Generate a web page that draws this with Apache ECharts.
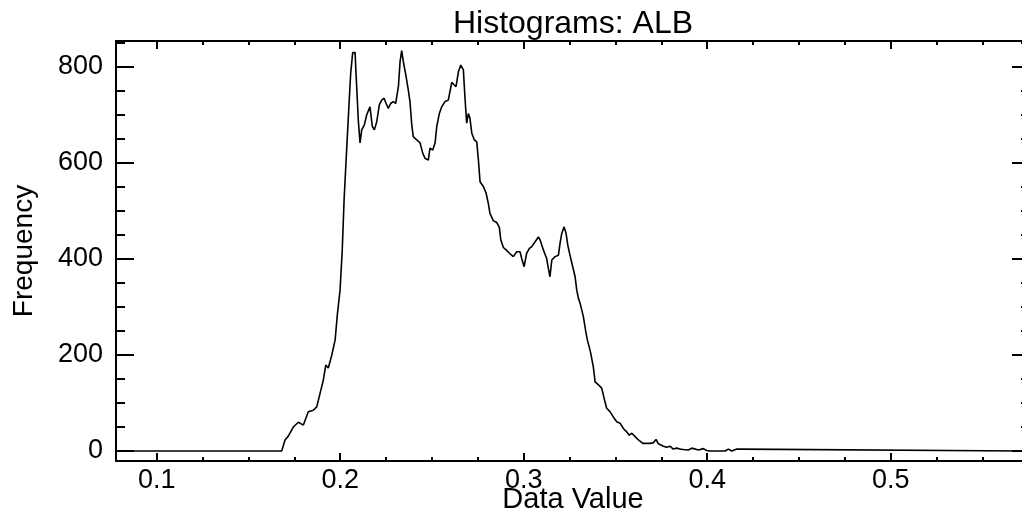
<!DOCTYPE html>
<html>
<head>
<meta charset="utf-8">
<script src="https://cdn.jsdelivr.net/npm/echarts@6/dist/echarts.min.js"></script>
<style>
  html, body { margin: 0; padding: 0; background: #fff; }
  #chart { width: 1022px; height: 515px; }
</style>
</head>
<body>
<div id="chart"></div>
<script>
// ---- Data ----
const titleText = 'Histograms: ALB';
const xName = 'Data Value';
const yName = 'Frequency';

const xMin = 0.0778, xMax = 0.5759;
const yMin = -20.8, yMax = 854.2;

const xMajorTicks = [0.1, 0.2, 0.3, 0.4, 0.5];
const xMinorTicks = [0.125, 0.15, 0.175, 0.225, 0.25, 0.275, 0.325, 0.35, 0.375,
                     0.425, 0.45, 0.475, 0.525, 0.55, 0.575];
const yMajorTicks = [0, 200, 400, 600, 800];
const yMinorTicks = [50, 100, 150, 250, 300, 350, 450, 500, 550, 650, 700, 750, 850];

const dataValues = [
  0.0778, 0.1681, 0.1699, 0.1717, 0.1744, 0.1772, 0.1799, 0.1826, 0.1853, 0.1872,
  0.1890, 0.1908, 0.1921, 0.1935, 0.1954, 0.1972, 0.1984, 0.1999, 0.2011, 0.2021,
  0.2032, 0.2044, 0.2057, 0.2068, 0.2081, 0.2086, 0.2099, 0.2108, 0.2117, 0.2131,
  0.2144, 0.2162, 0.2175, 0.2186, 0.2199, 0.2213, 0.2226, 0.2239, 0.2250, 0.2262,
  0.2275, 0.2289, 0.2302, 0.2317, 0.2326, 0.2335, 0.2344, 0.2359, 0.2371, 0.2380,
  0.2390, 0.2398, 0.2417, 0.2435, 0.2450, 0.2462, 0.2480, 0.2489, 0.2504, 0.2517,
  0.2526, 0.2540, 0.2553, 0.2571, 0.2589, 0.2598, 0.2608, 0.2620, 0.2631, 0.2644,
  0.2657, 0.2671, 0.2680, 0.2689, 0.2698, 0.2707, 0.2717, 0.2731, 0.2744, 0.2753,
  0.2762, 0.2780, 0.2795, 0.2807, 0.2816, 0.2834, 0.2853, 0.2867, 0.2875, 0.2889,
  0.2904, 0.2922, 0.2943, 0.2962, 0.2980, 0.2989, 0.3002, 0.3016, 0.3031, 0.3044,
  0.3062, 0.3080, 0.3089, 0.3107, 0.3125, 0.3134, 0.3143, 0.3153, 0.3171, 0.3189,
  0.3198, 0.3207, 0.3220, 0.3231, 0.3240, 0.3252, 0.3267, 0.3280, 0.3289, 0.3298,
  0.3307, 0.3316, 0.3325, 0.3338, 0.3347, 0.3358, 0.3365, 0.3379, 0.3389, 0.3407,
  0.3425, 0.3438, 0.3452, 0.3470, 0.3488, 0.3507, 0.3525, 0.3543, 0.3561, 0.3575,
  0.3589, 0.3607, 0.3625, 0.3649, 0.3688, 0.3706, 0.3721, 0.3734, 0.3761, 0.3779,
  0.3797, 0.3815, 0.3834, 0.3852, 0.3870, 0.3897, 0.3916, 0.3924, 0.3952, 0.3961,
  0.3979, 0.3997, 0.4015, 0.4097, 0.4115, 0.4134, 0.4161, 0.4179, 0.4188, 0.5759
];
const frequencies = [
  0, 0, 23, 31, 50, 60, 54, 82, 85, 92,
  120, 148, 179, 173, 200, 231, 283, 335, 419, 523,
  606, 694, 787, 830, 830, 787, 686, 642, 669, 679,
  700, 717, 676, 669, 686, 721, 731, 735, 724, 714,
  724, 728, 724, 759, 811, 834, 811, 780, 752, 728,
  679, 655, 648, 642, 620, 610, 606, 631, 627, 642,
  676, 703, 717, 728, 731, 749, 768, 763, 759, 790,
  804, 794, 735, 683, 703, 693, 662, 648, 644, 606,
  561, 551, 537, 516, 495, 480, 476, 466, 440, 424,
  419, 412, 405, 415, 415, 401, 384, 412, 422, 426,
  436, 446, 440, 419, 401, 381, 363, 398, 405, 408,
  433, 453, 467, 453, 429, 408, 384, 363, 335, 318,
  308, 311, 280, 249, 231, 215, 204, 176, 144, 138,
  131, 110, 89, 82, 71, 61, 58, 47, 40, 33,
  37, 30, 23, 16, 16, 17, 24, 15, 10, 8,
  10, 4, 6, 4, 3, 2, 6, 8, 2, 0,
  5, 1, 0, 0, 4, 0, 4, 4, 0, 0
];

// ---- Chart ----
const FONT = '"Liberation Sans", Arial, sans-serif';
const INK = '#000';
const seriesData = dataValues.map((v, i) => [v, frequencies[i]]);

function xAx(pos, major, showLine, extra) {
  return Object.assign({
    type: 'value', position: pos, min: xMin, max: xMax,
    axisLine: { show: showLine, onZero: false, lineStyle: { color: INK, width: 2 } },
    axisTick: { show: true, inside: true, length: major ? 8 : 4,
                customValues: major ? xMajorTicks : xMinorTicks,
                lineStyle: { color: INK, width: 2 } },
    axisLabel: { show: false },
    splitLine: { show: false }
  }, extra || {});
}
function yAx(pos, major, showLine, extra) {
  return Object.assign({
    type: 'value', position: pos, min: yMin, max: yMax,
    axisLine: { show: showLine, onZero: false, lineStyle: { color: INK, width: 2 } },
    axisTick: { show: true, inside: true, length: major ? 18 : 9,
                customValues: major ? yMajorTicks : yMinorTicks,
                lineStyle: { color: INK, width: 2 } },
    axisLabel: { show: false },
    splitLine: { show: false }
  }, extra || {});
}

const chart = echarts.init(document.getElementById('chart'), null, { renderer: 'canvas' });
chart.setOption({
  animation: false,
  backgroundColor: '#fff',
  grid: { left: 116, top: 41, right: -8, bottom: 54, containLabel: false, outerBoundsMode: 'none' },
  xAxis: [
    xAx('bottom', true, true, {
      name: xName, nameLocation: 'middle', nameGap: 24, nameMoveOverlap: false,
      nameTextStyle: { color: INK, fontFamily: FONT, fontSize: 29 },
      axisLabel: { show: true, customValues: xMajorTicks, margin: 6,
                   color: INK, fontFamily: FONT, fontSize: 27,
                   formatter: v => v.toFixed(1) }
    }),
    xAx('bottom', false, false),
    xAx('top', true, true, {
      name: titleText, nameLocation: 'middle', nameGap: 1, nameMoveOverlap: false,
      nameTextStyle: { color: INK, fontFamily: FONT, fontSize: 32 }
    }),
    xAx('top', false, false)
  ],
  yAxis: [
    yAx('left', true, true, {
      name: yName, nameLocation: 'middle', nameGap: 78, nameMoveOverlap: false,
      nameTextStyle: { color: INK, fontFamily: FONT, fontSize: 28 },
      axisLabel: { show: true, customValues: yMajorTicks, margin: 13,
                   color: INK, fontFamily: FONT, fontSize: 27 }
    }),
    yAx('left', false, false),
    yAx('right', true, true),
    yAx('right', false, false)
  ],
  series: [{
    type: 'line',
    xAxisIndex: 0, yAxisIndex: 0,
    data: seriesData,
    showSymbol: false,
    symbol: 'none',
    lineStyle: { color: INK, width: 1.6 },
    emphasis: { disabled: true }
  }]
});
</script>
</body>
</html>
